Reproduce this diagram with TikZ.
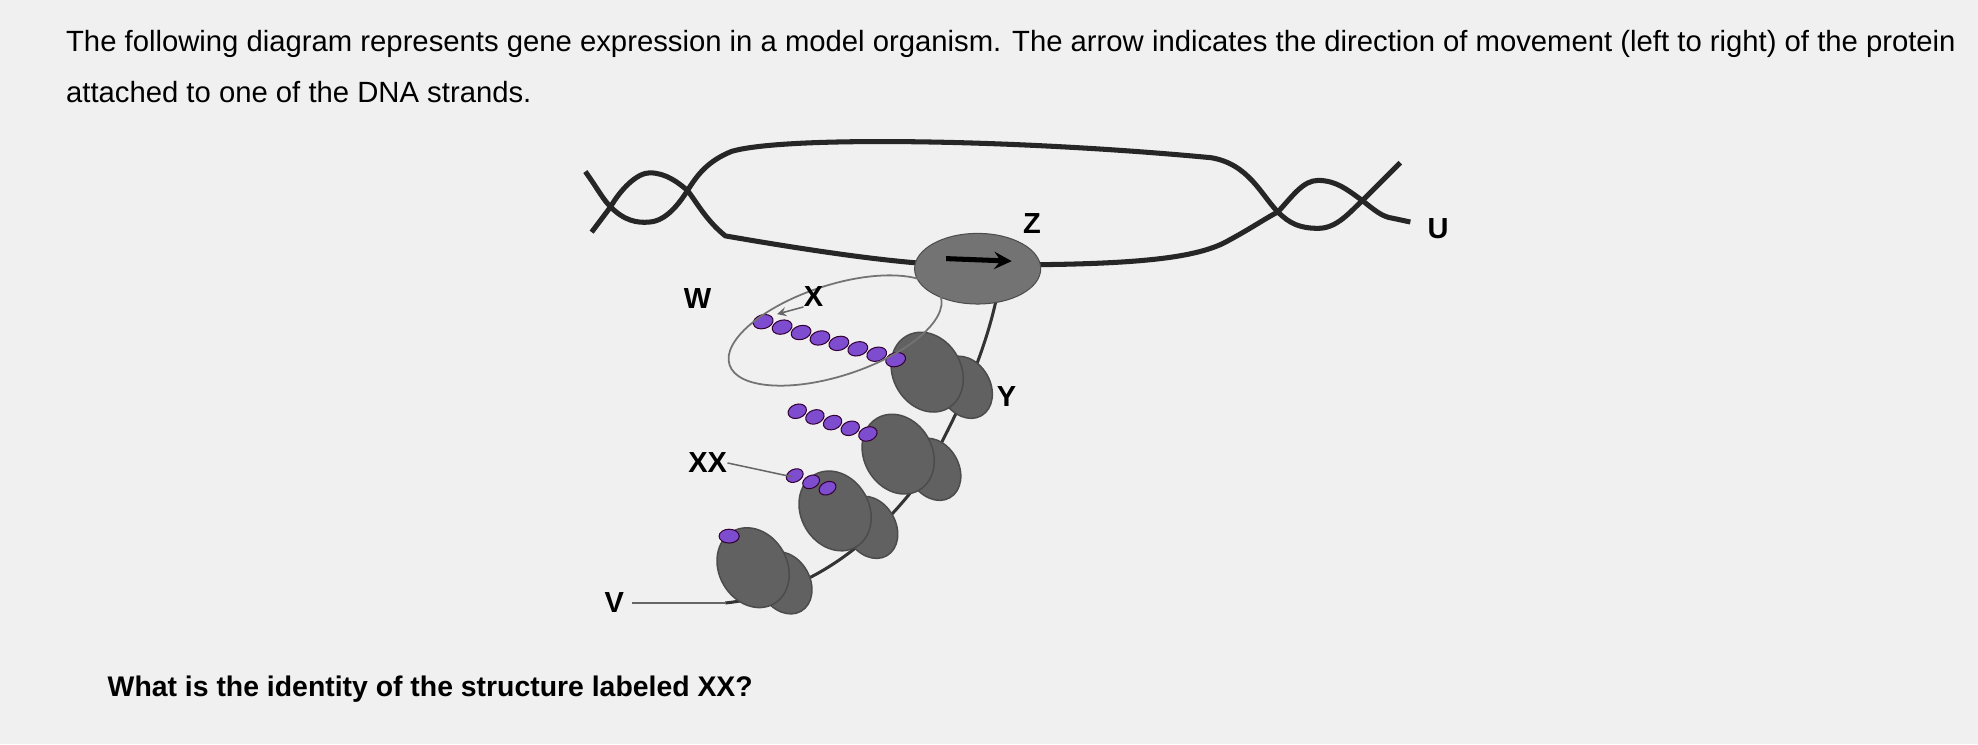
\documentclass[tikz,border=0pt]{standalone}
\usepackage{fontspec}
\setmainfont{Liberation Sans}
\begin{document}
\begin{tikzpicture}[x=0.5pt,y=-0.5pt,
  lab/.style={font=\fontsize{11.5}{13}\selectfont\bfseries,inner sep=0pt},
  strand/.style={line width=2pt,black!85,line join=round},
  ribo/.style={fill=black!62,draw=black!70,line width=0.6pt},
  bead/.style={fill=violet!55!blue!70,draw=violet!40!black,line width=0.4pt}]
\useasboundingbox[fill=black!6] (0,0) rectangle (1568,590);
\node[anchor=west,inner sep=0pt,font=\fontsize{11.6}{13}\selectfont] (t1) at (52,35) {The following diagram represents gene expression in a model organism. The arrow indicates the direction of movement (left to right) of the protein};
\node[anchor=west,inner sep=0pt,font=\fontsize{11.6}{13}\selectfont] (t2) at (52,73) {attached to one of the DNA strands.};
\node[anchor=west,inner sep=0pt,font=\fontsize{11.25}{14}\selectfont\bfseries] (q) at (85,546) {What is the identity of the structure labeled XX?};
% DNA top strand
\draw[strand] (464,136) .. controls (474,150) and (478,158) .. (484,164)
  .. controls (495,175) and (505,177) .. (515,176) .. controls (528,175) and (538,162) .. (545,151)
  .. controls (552,140) and (560,128) .. (580,120) .. controls (620,108) and (800,110) .. (960,125)
  .. controls (990,130) and (1000,155) .. (1013,168) .. controls (1022,177) and (1030,181) .. (1045,181)
  .. controls (1060,181) and (1070,168) .. (1080,159) -- (1110,129);
% DNA bottom strand
\draw[strand] (469,184) -- (484,164) .. controls (492,150) and (505,137) .. (515,137)
  .. controls (528,137) and (538,145) .. (545,151) .. controls (552,160) and (560,175) .. (575,187)
  .. controls (650,200) and (720,210) .. (760,210);
\draw[strand] (790,210) .. controls (900,210) and (950,205) .. (975,190)
  .. controls (990,182) and (1005,172) .. (1013,168) .. controls (1025,155) and (1033,143) .. (1045,143)
  .. controls (1060,143) and (1070,152) .. (1080,159) .. controls (1090,167) and (1096,172) .. (1104,173) -- (1118,176);
% mRNA
\draw[line width=1.2pt,black!80] (792,225) .. controls (785,270) and (760,330) .. (730,380) .. controls (700,420) and (650,470) .. (575,478);
% ribosomes
\foreach \a/\b/\c/\d in {735/295/765/307, 712/360/740/372, 662/405/690/418, 597/450/622/462}{
  \draw[ribo] (\c,\d) ellipse [x radius=20,y radius=26,rotate=30];
  \draw[ribo] (\a,\b) ellipse [x radius=27,y radius=33,rotate=30];
}
% polypeptides
\foreach \i in {0,...,7}{\draw[bead] ({605+15*\i},{255+4.3*\i}) ellipse [x radius=8,y radius=5.5,rotate=15];}
\foreach \i in {0,...,4}{\draw[bead] ({632+14*\i},{326+4.5*\i}) ellipse [x radius=7.5,y radius=5.5,rotate=20];}
\foreach \i in {0,...,2}{\draw[bead] ({630+13*\i},{377+5*\i}) ellipse [x radius=7,y radius=5,rotate=25];}
\draw[bead] (578,425) ellipse [x radius=8,y radius=5.5];
% polymerase
\draw[fill=black!55,draw=black!70] (775,213) ellipse [x radius=50,y radius=28];
\draw[-stealth,line width=2pt,black] (750,205) -- (802,207);
% W ellipse
\draw[black!55,line width=0.7pt] (662,262) ellipse [x radius=88,y radius=36,rotate=18];
% labels
\node[lab] (Z) at (818,177) {Z};
\node[lab] (U) at (1140,181) {U};
\node[lab] (Y) at (798,314) {Y};
\node[lab] (W) at (553,237) {W};
\node[lab] (X) at (645,235) {X};
\node[lab] (XX) at (561,367) {XX};
\node[lab] (V) at (487,478) {V};
\coordinate (xt) at (616,249);
\coordinate (xxt) at (628,378);
\coordinate (vt) at (575,478);
\draw[-stealth,black!60,line width=0.6pt] (X.south west) -- (xt);
\draw[black!60,line width=0.6pt] (XX.east) -- (xxt);
\draw[black!60,line width=0.6pt] ([xshift=3pt]V.east) -- (vt);
\end{tikzpicture}
\end{document}
